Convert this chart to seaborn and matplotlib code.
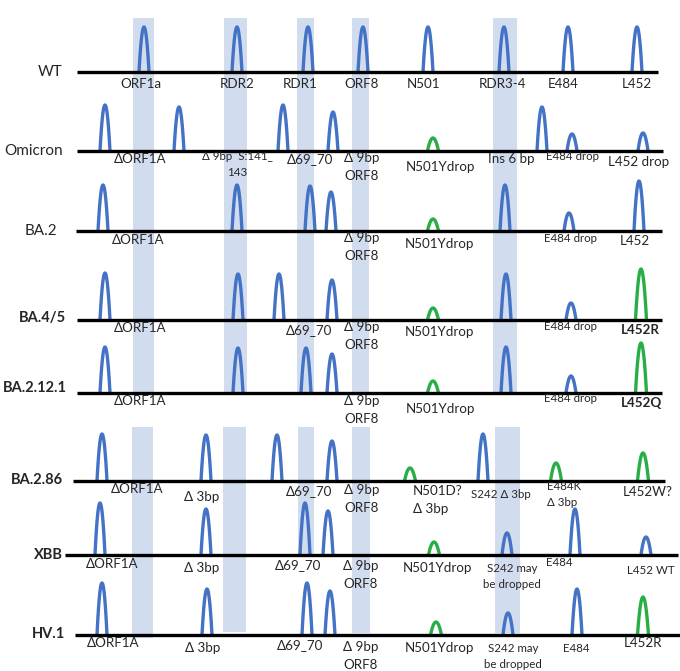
import numpy as np
import pandas as pd
import matplotlib
matplotlib.use("Agg")
import matplotlib.pyplot as plt
import seaborn as sns

# ---------------------------------------------------------------------------
# Data (pixel space of the schematic: x to the right, y downwards)
# ---------------------------------------------------------------------------
ROWS = ["WT", "Omicron", "BA.2", "BA.4/5", "BA.2.12.1", "BA.2.86", "XBB", "HV.1"]
ROW_BOLD = [False, False, False, True, True, True, True, True]
ROW_LABEL_X = [63, 63, 57, 66, 67, 63, 63, 65]
ROW_LABEL_Y = [72, 151, 231, 318, 388, 480, 555, 634]
BASELINES = [72, 151, 231, 320, 393, 481, 555, 635]
LINE_START = [77, 77, 76, 77, 77, 73, 65, 75]
LINE_END = [658, 663, 662, 662, 662, 665, 678, 680]

PEAK_X = [
    [144, 237, 308, 363, 428, 504, 568, 637],
    [105, 179, 283, 333, 433, 542, 572, 643],
    [103, 237, 310, 331, 433, 505, 569, 639],
    [105, 238, 279, 332, 433, 506, 571, 641],
    [105, 238, 306, 332, 433, 506, 571, 641],
    [102, 206, 277, 332, 410, 483, 556, 643],
    [100, 206, 305, 328, 434, 507, 575, 646],
    [102, 207, 307, 330, 436, 508, 577, 643],
]
PEAK_H = [
    [45, 45, 45, 45, 45, 45, 45, 45],
    [46, 44, 46, 39, 13, 44, 17, 18],
    [46, 46, 45, 39, 12, 46, 18, 50],
    [47, 46, 46, 40, 12, 46, 17, 51],
    [46, 45, 45, 39, 12, 46, 17, 50],
    [47, 46, 46, 40, 13, 47, 18, 28],
    [52, 46, 52, 44, 13, 22, 46, 18],
    [52, 46, 52, 44, 13, 22, 46, 38],
]
# b = retained (blue), g = changed (green)
PEAK_KIND = [
    "bbbbbbbb",
    "bbbbgbbb",
    "bbbbgbbb",
    "bbbbgbbg",
    "bbbbgbbg",
    "bbbbgbgg",
    "bbbbgbbb",
    "bbbbgbbg",
]

# labels: (text, x, dy below baseline, options: s=small, b=bold, l=left)
LABELS = [
    [("ORF1a", 141, 12), ("RDR2", 237, 12), ("RDR1", 300, 12), ("ORF8", 362, 12),
     ("N501", 423, 12), ("RDR3-4", 502, 12), ("E484", 563, 12), ("L452", 637, 12)],
    [("ΔORF1A", 140, 8), ("Δ 9bp  S:141_\n143", 237, 6, "s"), ("Δ69_70", 310, 8),
     ("Δ 9bp\nORF8", 362, 7), ("N501Ydrop", 440, 16), ("Ins 6 bp", 511, 8),
     ("E484 drop", 572, 6, "s"), ("L452 drop", 639, 11)],
    [("ΔORF1A", 138, 9), ("Δ 9bp\nORF8", 362, 7), ("N501Ydrop", 439, 13),
     ("E484 drop", 570, 7, "s"), ("L452", 635, 10)],
    [("ΔORF1A", 140, 8), ("Δ69_70", 309, 10), ("Δ 9bp\nORF8", 362, 7),
     ("N501Ydrop", 439, 12), ("E484 drop", 571, 6, "s"), ("L452R", 640, 10, "b")],
    [("ΔORF1A", 140, 8), ("Δ 9bp\nORF8", 362, 8), ("N501Ydrop", 440, 16),
     ("E484 drop", 571, 6, "s"), ("L452Q", 641, 10, "b")],
    [("ΔORF1A", 137, 8), ("Δ 3bp", 202, 16), ("Δ69_70", 309, 10),
     ("Δ 9bp\nORF8", 362, 9), ("N501D?\nΔ 3bp", 413, 10, "l"),
     ("S242 Δ 3bp", 501, 14, "s"), ("E484K\nΔ 3bp", 547, 5, "sl"), ("L452W?", 648, 11)],
    [("ΔORF1A", 112, 9), ("Δ 3bp", 202, 13), ("Δ69_70", 298, 10),
     ("Δ 9bp\nORF8", 361, 11), ("N501Ydrop", 437, 13),
     ("S242 may\nbe dropped", 512, 13, "s"), ("E484", 559, 8, "s"), ("L452 WT", 651, 16, "s")],
    [("ΔORF1A", 113, 8), ("Δ 3bp", 203, 13), ("Δ69_70", 300, 10),
     ("Δ 9bp\nORF8", 361, 12), ("N501Ydrop", 439, 13),
     ("S242 may\nbe dropped", 513, 13, "s"), ("E484", 576, 13, "s"), ("L452R", 643, 8)],
]

# shaded regions: (left, right, top, bottom)
BANDS = [
    (133, 154, 18, 393), (224, 247, 18, 393), (297, 314, 18, 393),
    (352, 369, 18, 393), (493, 517, 18, 393),
    (132, 153, 427, 638), (223, 246, 427, 632), (298, 314, 427, 555),
    (352, 370, 427, 633), (495, 520, 427, 633),
]

BLUE = "#4472C4"
GREEN = "#27AE47"
BAND = "#D2DCEF"

# ---------------------------------------------------------------------------
# Build peak curves
# ---------------------------------------------------------------------------
t = np.linspace(-1, 1, 41)
recs = []
pid = 0
for r, base in enumerate(BASELINES):
    for x0, h, k in zip(PEAK_X[r], PEAK_H[r], PEAK_KIND[r]):
        hw = 5.0 if k == "b" else 5.5
        for ti in t:
            recs.append({"x": x0 + hw * ti, "y": base - h * (1 - ti ** 2),
                         "pid": pid, "kind": k})
        pid += 1
peaks = pd.DataFrame(recs)

sns.set_style("white")
plt.rcParams["font.family"] = ["Lato", "DejaVu Sans"]

fig = plt.figure(figsize=(6.8, 6.71), dpi=100)
ax = fig.add_axes([0, 0, 1, 1])

# bands
bl = np.array(BANDS, dtype=float)
ax.bar((bl[:, 0] + bl[:, 1]) / 2, bl[:, 3] - bl[:, 2], bottom=bl[:, 2],
       width=bl[:, 1] - bl[:, 0], color=BAND, zorder=0, linewidth=0)

sns.lineplot(data=peaks, x="x", y="y", units="pid", hue="kind",
             palette={"b": BLUE, "g": GREEN}, estimator=None, sort=False,
             linewidth=2.4, legend=False, ax=ax, zorder=2)

for r, base in enumerate(BASELINES):
    ax.plot([LINE_START[r], LINE_END[r]], [base, base], color="black",
            lw=2.4, zorder=3, solid_capstyle="butt")
    ax.text(ROW_LABEL_X[r], ROW_LABEL_Y[r], ROWS[r], ha="right", va="center",
            fontsize=10.5 if ROW_BOLD[r] else 11,
            fontweight="bold" if ROW_BOLD[r] else "normal")
    for lab in LABELS[r]:
        text, x, dy = lab[:3]
        opts = lab[3] if len(lab) > 3 else ""
        small = "s" in opts
        fs = 8.3 if small else 9.6
        ha = "left" if "l" in opts else "center"
        for i, line in enumerate(text.split("\n")):
            ax.text(x, base + dy + i * (16 if small else 18), line,
                    ha=ha, va="center", fontsize=fs,
                    fontweight="bold" if "b" in opts else "normal")

ax.set_xlim(0, 680)
ax.set_ylim(671, 0)
ax.axis("off")
fig.savefig("out.png", dpi=100)
